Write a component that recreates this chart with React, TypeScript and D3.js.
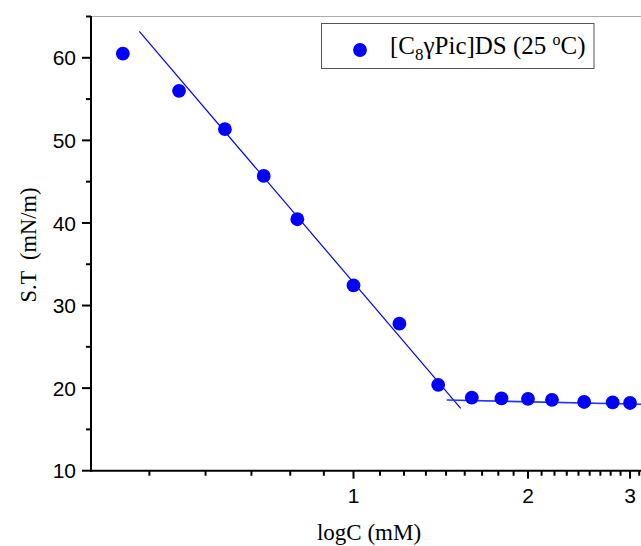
import React from "react";
import * as d3 from "d3";

// Data
const concentrations: number[] = [0.4, 0.5, 0.6, 0.7, 0.8, 1.0, 1.2, 1.4, 1.6, 1.8, 2.0, 2.2, 2.5, 2.8, 3.0];
const surfaceTension: number[] = [60.5, 56.0, 51.35, 45.7, 40.45, 32.45, 27.8, 20.4, 18.85, 18.75, 18.7, 18.58, 18.32, 18.28, 18.2];

// linear fit segments (pre-CMC and post-CMC)
const fitPreX: number[] = [0.427, 1.531];
const fitPreY: number[] = [63.2, 17.56];
const fitPostX: number[] = [1.448, 3.3];
const fitPostY: number[] = [18.56, 18.02];

const yMajorTicks: number[] = [10, 20, 30, 40, 50, 60];
const yMinorTicks: number[] = [15, 25, 35, 45, 55, 65];
const xMajorTicks: number[] = [1, 2, 3];

export default function App() {
  const W = 641;
  const H = 546;
  const left = 91;
  const top = 16.5;
  const bottom = 470.7;
  const decade = 579.6;
  const xOne = 353.5;
  const xMin = Math.pow(10, (left - xOne) / decade);
  const xMax = 3.3;

  const x = d3
    .scaleLog()
    .domain([xMin, xMax])
    .range([left, xOne + decade * Math.log10(xMax)]);
  const y = d3.scaleLinear().domain([10, 65]).range([bottom, top]);

  // minor x ticks: 8 linear subdivisions between integer majors
  const xMinor: number[] = [];
  for (let n = 0; n < 4; n++) {
    for (let k = 1; k <= 8; k++) {
      const v = n + k / 9;
      if (v > xMin && v < xMax && x(v) <= W) xMinor.push(v);
    }
  }

  const line = d3
    .line<[number, number]>()
    .x((d) => x(d[0]))
    .y((d) => y(d[1]));

  const pre: [number, number][] = fitPreX.map((v, i) => [v, fitPreY[i]]);
  const post: [number, number][] = fitPostX.map((v, i) => [v, fitPostY[i]]);

  const tickFont = "'Liberation Sans', Arial, sans-serif";
  const serif = "'Liberation Serif', 'Times New Roman', serif";

  return (
    <svg
      width={W}
      height={H}
      style={{ position: "absolute", left: 0, top: 0, background: "#fff" }}
    >
      <rect x={0} y={0} width={W} height={H} fill="#fff" />
      {/* top frame line */}
      <line x1={left} x2={W} y1={top} y2={top} stroke="#aaa" strokeWidth={1.2} />

      {/* fit lines */}
      <path d={line(pre) || ""} fill="none" stroke="#0000ff" strokeWidth={1.2} />
      <path d={line(post) || ""} fill="none" stroke="#2233ff" strokeWidth={1.6} />

      {/* points */}
      {concentrations.map((c, i) => (
        <circle key={i} cx={x(c)} cy={y(surfaceTension[i])} r={6.9} fill="#0000ff" />
      ))}

      {/* y axis */}
      <line x1={left} x2={left} y1={top - 0.5} y2={bottom + 1} stroke="#000" strokeWidth={2} />
      {yMajorTicks.map((t) => (
        <g key={"ym" + t}>
          <line x1={left - 9} x2={left} y1={y(t)} y2={y(t)} stroke="#000" strokeWidth={2} />
          <text
            x={76}
            y={y(t)}
            dy="0.36em"
            textAnchor="end"
            fontFamily={tickFont}
            fontSize={21}
            fill="#000"
          >
            {t}
          </text>
        </g>
      ))}
      {yMinorTicks.map((t) => (
        <line key={"yn" + t} x1={left - 5} x2={left} y1={y(t)} y2={y(t)} stroke="#000" strokeWidth={2} />
      ))}

      {/* x axis */}
      <line x1={left - 1} x2={W} y1={bottom} y2={bottom} stroke="#000" strokeWidth={2} />
      {xMajorTicks.map((t) => (
        <g key={"xm" + t}>
          <line x1={x(t)} x2={x(t)} y1={bottom} y2={bottom + 8} stroke="#000" strokeWidth={2} />
          <text
            x={x(t)}
            y={502.5}
            textAnchor="middle"
            fontFamily={tickFont}
            fontSize={21}
            fill="#000"
          >
            {t}
          </text>
        </g>
      ))}
      {xMinor.map((t, i) => (
        <line key={"xn" + i} x1={x(t)} x2={x(t)} y1={bottom} y2={bottom + 5} stroke="#000" strokeWidth={2} />
      ))}

      {/* axis titles */}
      <text
        x={369}
        y={540}
        textAnchor="middle"
        fontFamily={serif}
        fontSize={23}
        fill="#000"
      >
        logC (mM)
      </text>
      <text
        transform={`translate(36, 245) rotate(-90)`}
        textAnchor="middle"
        fontFamily={serif}
        fontSize={22.5}
        fill="#000"
        xmlSpace="preserve"
      >
        S.T  (mN/m)
      </text>

      {/* legend */}
      <rect x={321.5} y={23.5} width={272.5} height={45} fill="#fff" stroke="#555" strokeWidth={1} />
      <circle cx={360} cy={50} r={6.9} fill="#0000ff" />
      <text x={390} y={54} fontFamily={serif} fontSize={25} fill="#000">
        <tspan>[C</tspan>
        <tspan fontSize={17} dy={6}>8</tspan>
        <tspan dy={-6}>γPic]DS (25 </tspan>
        <tspan fontSize={16} dy={-9}>o</tspan>
        <tspan dy={9}>C)</tspan>
      </text>
    </svg>
  );
}
